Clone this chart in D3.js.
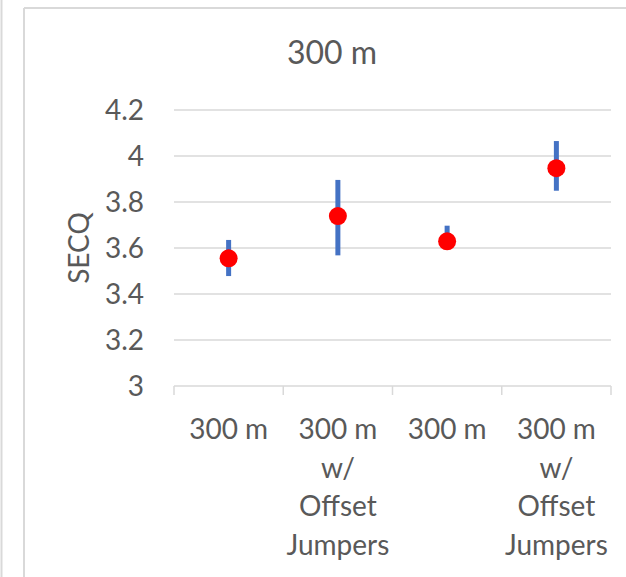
<!DOCTYPE html>
<html>
<head>
<meta charset="utf-8">
<script src="https://cdn.jsdelivr.net/npm/d3@7"></script>
<style>
  body { margin: 0; background: #fff; }
  svg text { font-family: Lato, "Open Sans", sans-serif; fill: #595959; }
</style>
</head>
<body>
<div id="chart"></div>
<script>
// data
const categories = ['300 m', '300 m w/ Offset Jumpers', '300 m', '300 m w/ Offset Jumpers'];
const labelLines = [['300 m'], ['300 m', 'w/', 'Offset', 'Jumpers'], ['300 m'], ['300 m', 'w/', 'Offset', 'Jumpers']];
const means = [3.555, 3.739, 3.629, 3.947];
const errHigh = [3.635, 3.896, 3.697, 4.065];
const errLow = [3.478, 3.568, 3.60, 3.849];
const yTicks = [3, 3.2, 3.4, 3.6, 3.8, 4, 4.2];
const title = '300 m';
const yTitle = 'SECQ';

const width = 626, height = 577;
const margin = { top: 110, right: 15, bottom: 191, left: 174 };

const svg = d3.select('#chart').append('svg')
  .attr('width', width)
  .attr('height', height);

// frame borders
svg.append('line').attr('x1', 24).attr('x2', 24).attr('y1', 8).attr('y2', height)
  .attr('stroke', '#d9d9d9').attr('stroke-width', 2);
svg.append('line').attr('x1', 24).attr('x2', width).attr('y1', 8).attr('y2', 8)
  .attr('stroke', '#d9d9d9').attr('stroke-width', 2);
svg.append('line').attr('x1', 1.5).attr('x2', 1.5).attr('y1', 0).attr('y2', height)
  .attr('stroke', '#d9d9d9').attr('stroke-width', 2);

const x = d3.scaleBand()
  .domain(categories.map((d, i) => i))
  .range([margin.left, width - margin.right]);

const y = d3.scaleLinear()
  .domain([3, 4.2])
  .range([height - margin.bottom, margin.top]);

// gridlines
svg.append('g')
  .selectAll('line')
  .data(yTicks.slice(1))
  .enter().append('line')
  .attr('x1', margin.left).attr('x2', width - margin.right)
  .attr('y1', d => y(d)).attr('y2', d => y(d))
  .attr('stroke', '#d9d9d9').attr('stroke-width', 1.5);

// y labels
svg.append('g')
  .selectAll('text')
  .data(yTicks)
  .enter().append('text')
  .attr('x', 144)
  .attr('y', d => y(d))
  .attr('dy', '0.35em')
  .attr('text-anchor', 'end')
  .style('font-size', '28px')
  .text(d => d);

// x axis
const xAxis = svg.append('g')
  .attr('transform', `translate(0, ${y(3)})`);
xAxis.append('line')
  .attr('x1', margin.left).attr('x2', width - margin.right)
  .attr('stroke', '#d9d9d9').attr('stroke-width', 1.5);
const edges = categories.map((d, i) => x(i)).concat([width - margin.right]);
xAxis.selectAll('.tick')
  .data(edges)
  .enter().append('line')
  .attr('x1', d => d).attr('x2', d => d)
  .attr('y1', 0).attr('y2', 9)
  .attr('stroke', '#d9d9d9').attr('stroke-width', 1.5);

const labels = svg.append('g')
  .selectAll('text')
  .data(labelLines)
  .enter().append('text')
  .attr('text-anchor', 'middle')
  .style('font-size', '28px');
labels.selectAll('tspan')
  .data((d, i) => d.map(t => ({ t: t, i: i })))
  .enter().append('tspan')
  .attr('x', d => x(d.i) + x.bandwidth() / 2)
  .attr('y', (d, j) => 439 + j * 38.5)
  .text(d => d.t);

// error bars
svg.append('g')
  .selectAll('line')
  .data(means)
  .enter().append('line')
  .attr('x1', (d, i) => x(i) + x.bandwidth() / 2)
  .attr('x2', (d, i) => x(i) + x.bandwidth() / 2)
  .attr('y1', (d, i) => y(errHigh[i]))
  .attr('y2', (d, i) => y(errLow[i]))
  .attr('stroke', '#4472c4').attr('stroke-width', 5);

// points
svg.append('g')
  .selectAll('circle')
  .data(means)
  .enter().append('circle')
  .attr('cx', (d, i) => x(i) + x.bandwidth() / 2)
  .attr('cy', d => y(d))
  .attr('r', 9)
  .attr('fill', '#ff0000');

// titles
svg.append('text')
  .attr('x', 332).attr('y', 64)
  .attr('text-anchor', 'middle')
  .style('font-size', '32px')
  .text(title);

svg.append('text')
  .attr('transform', `translate(89, ${y(3.6)}) rotate(-90)`)
  .attr('text-anchor', 'middle')
  .style('font-size', '28px')
  .text(yTitle);
</script>
</body>
</html>
